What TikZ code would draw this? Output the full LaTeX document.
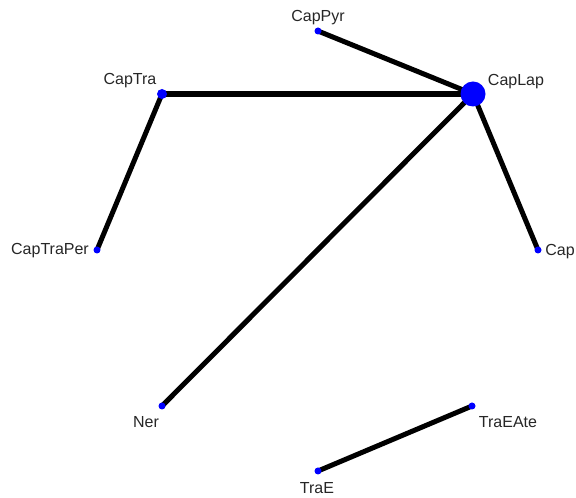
\documentclass[tikz,border=0pt]{standalone}
\usepackage{fontspec}
\setmainfont{Liberation Sans}
\begin{document}
\begin{tikzpicture}[x=1pt,y=1pt,
  vert/.style={circle,fill=blue,inner sep=0pt,minimum size=7pt},
  bigvert/.style={circle,fill=blue,inner sep=0pt,minimum size=25pt},
  lab/.style={font=\fontsize{16}{16}\selectfont,inner sep=0pt,text=black!85},
  edge/.style={line width=5pt,black},
  thickedge/.style={line width=6pt,black}]
\useasboundingbox (0,0) rectangle (576,498);
% vertices
\coordinate (CapPyr) at (318,467);
\coordinate (CapLap) at (473,404);
\coordinate (CapTra) at (162,404);
\coordinate (CapTraPer) at (97,248);
\coordinate (Cap) at (538,248);
\coordinate (Ner) at (162,92);
\coordinate (TraEAte) at (472,92);
\coordinate (TraE) at (318,27);
% edges
\draw[edge] (CapPyr) -- (CapLap);
\draw[thickedge] (CapTra) -- (CapLap);
\draw[edge] (CapTra) -- (CapTraPer);
\draw[edge] (CapLap) -- (Cap);
\draw[edge] (CapLap) -- (Ner);
\draw[edge] (TraEAte) -- (TraE);
% dots
\node[vert] (dCapPyr) at (CapPyr) {};
\node[bigvert] (dCapLap) at (CapLap) {};
\node[vert,minimum size=10pt] (dCapTra) at (CapTra) {};
\node[vert] (dCapTraPer) at (CapTraPer) {};
\node[vert] (dCap) at (Cap) {};
\node[vert] (dNer) at (Ner) {};
\node[vert] (dTraEAte) at (TraEAte) {};
\node[vert] (dTraE) at (TraE) {};
% labels
\node[lab] (lCapPyr) at (318,480) {CapPyr};
\node[lab] (lCapLap) at (516,416) {CapLap};
\node[lab] (lCapTra) at (130,417) {CapTra};
\node[lab] (lCapTraPer) at (50,247) {CapTraPer};
\node[lab] (lCap) at (560,246) {Cap};
\node[lab] (lNer) at (146,76) {Ner};
\node[lab] (lTraEAte) at (508,76) {TraEAte};
\node[lab] (lTraE) at (317,10) {TraE};
\end{tikzpicture}
\end{document}
